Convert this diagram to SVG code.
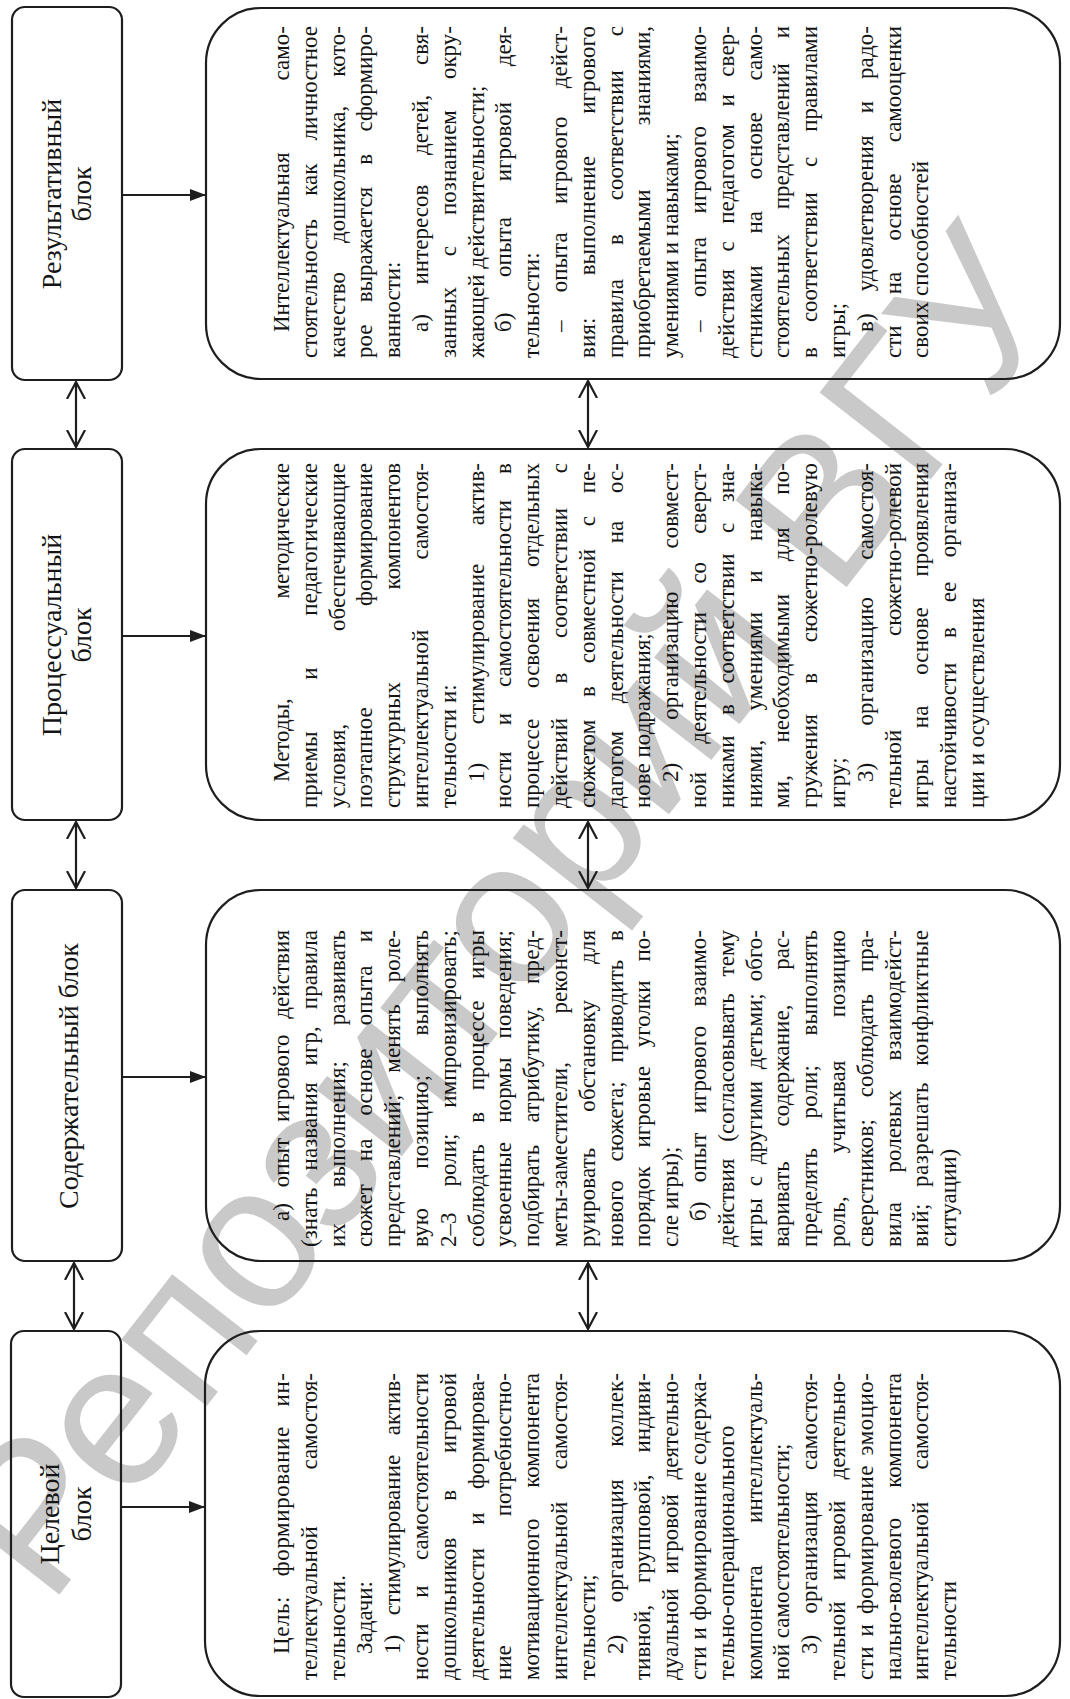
<svg xmlns="http://www.w3.org/2000/svg" width="1070" height="1699" viewBox="0 0 1070 1699">
<style>
.bx{fill:none;stroke:#1e1e1e;stroke-width:2.2}
.hd{font-family:"Liberation Serif","Times New Roman",serif;font-size:28px;fill:#141414;text-anchor:middle}
.t{font-family:"Liberation Serif","Times New Roman",serif;font-size:23px;fill:#141414}
.e{text-anchor:end}
.m{text-anchor:middle}
.wm{font-family:"Liberation Sans",Arial,sans-serif;font-size:205px;fill:#c9c9c9;text-anchor:middle}
.cn line{stroke:#1e1e1e;stroke-width:2.2;fill:none}
</style>
<defs>
<marker id="fa" viewBox="0 0 16 12" refX="16" refY="6" markerWidth="16" markerHeight="12" markerUnits="userSpaceOnUse" orient="auto"><path d="M0,0 L16,6 L0,12 z" fill="#1e1e1e"/></marker>
<marker id="oa" viewBox="0 0 18 20" refX="17" refY="10" markerWidth="18" markerHeight="20" markerUnits="userSpaceOnUse" orient="auto-start-reverse"><path d="M0,1 L17,10 L0,19" fill="none" stroke="#1e1e1e" stroke-width="2.2"/></marker>
</defs>
<rect width="1070" height="1699" fill="#fff"/>
<g id="watermark"><text class="wm" transform="translate(559,955) rotate(-52)">Репозиторий ВГУ</text></g>

<g id="hdr-result"><rect class="bx" x="12" y="7" width="110" height="373" rx="13"/>
<g transform="translate(0,194) rotate(-90)"><text class="hd" x="0" y="61">Результативный</text><text class="hd" x="0" y="91">блок</text></g></g>
<g id="hdr-process"><rect class="bx" x="12" y="449" width="110" height="371" rx="13"/>
<g transform="translate(0,635) rotate(-90)"><text class="hd" x="0" y="61">Процессуальный</text><text class="hd" x="0" y="91">блок</text></g></g>
<g id="hdr-content"><rect class="bx" x="12" y="890" width="110" height="371" rx="13"/>
<g transform="translate(0,1076) rotate(-90)"><text class="hd" x="0" y="78">Содержательный блок</text></g></g>
<g id="hdr-target"><rect class="bx" x="11" y="1331" width="110" height="366" rx="13"/>
<g transform="translate(0,1514) rotate(-90)"><text class="hd" x="0" y="59">Целевой</text><text class="hd" x="0" y="91">блок</text></g></g>

<g id="box-result"><rect class="bx" x="206" y="8" width="854" height="371" rx="55"/>
<g class="t" transform="translate(0,358) rotate(-90)">
<text x="26" y="289">Интеллектуальная</text><text class="e" x="332" y="289">само-</text>
<text x="0" y="316.8" word-spacing="17.4" textLength="332" lengthAdjust="spacing">стоятельность как личностное</text>
<text x="0" y="344.6" word-spacing="22.8" textLength="332" lengthAdjust="spacing">качество дошкольника, кото-</text>
<text x="0" y="372.4" word-spacing="16.4" textLength="332" lengthAdjust="spacing">рое выражается в сформиро-</text>
<text x="0" y="400.2">ванности:</text>
<text x="26" y="428" word-spacing="23.9" textLength="306" lengthAdjust="spacing">а) интересов детей, свя-</text>
<text x="0" y="455.8" word-spacing="25.2" textLength="332" lengthAdjust="spacing">занных с познанием окру-</text>
<text x="0" y="483.6">жающей действительности;</text>
<text x="26" y="511.4" word-spacing="29.9" textLength="306" lengthAdjust="spacing">б) опыта игровой дея-</text>
<text x="0" y="539.2">тельности:</text>
<text x="26" y="567" word-spacing="22.5" textLength="306" lengthAdjust="spacing">– опыта игрового дейст-</text>
<text x="0" y="594.8" word-spacing="36.4" textLength="332" lengthAdjust="spacing">вия: выполнение игрового</text>
<text x="0" y="622.6" word-spacing="28.2" textLength="332" lengthAdjust="spacing">правила в соответствии с</text>
<text x="0" y="650.4">приобретаемыми</text><text class="e" x="332" y="650.4">знаниями,</text>
<text x="0" y="678.2">умениями и навыками;</text>
<text x="26" y="706" word-spacing="17.8" textLength="306" lengthAdjust="spacing">– опыта игрового взаимо-</text>
<text x="0" y="733.8" word-spacing="11.6" textLength="332" lengthAdjust="spacing">действия с педагогом и свер-</text>
<text x="0" y="761.6" word-spacing="26.1" textLength="332" lengthAdjust="spacing">стниками на основе само-</text>
<text x="0" y="789.4" word-spacing="19" textLength="332" lengthAdjust="spacing">стоятельных представлений и</text>
<text x="0" y="817.2" word-spacing="19.3" textLength="332" lengthAdjust="spacing">в соответствии с правилами</text>
<text x="0" y="845">игры;</text>
<text x="26" y="872.8" word-spacing="16.1" textLength="306" lengthAdjust="spacing">в) удовлетворения и радо-</text>
<text x="0" y="900.6" word-spacing="25.6" textLength="332" lengthAdjust="spacing">сти на основе самооценки</text>
<text x="0" y="928.4">своих способностей</text>
</g></g>

<g id="box-process"><rect class="bx" x="206" y="449" width="854" height="371" rx="55"/>
<g class="t" transform="translate(0,808) rotate(-90)">
<text x="26" y="289">Методы,</text><text class="e" x="345" y="289">методические</text>
<text x="0" y="316.8" word-spacing="46" textLength="345" lengthAdjust="spacing">приемы и педагогические</text>
<text x="0" y="344.6">условия,</text><text class="e" x="345" y="344.6">обеспечивающие</text>
<text x="0" y="372.4">поэтапное</text><text class="e" x="345" y="372.4">формирование</text>
<text x="0" y="400.2">структурных</text><text class="e" x="345" y="400.2">компонентов</text>
<text x="0" y="428">интеллектуальной</text><text class="e" x="345" y="428">самостоя-</text>
<text x="0" y="455.8">тельности и:</text>
<text x="26" y="483.6" word-spacing="32.8" textLength="319" lengthAdjust="spacing">1) стимулирование актив-</text>
<text x="0" y="511.4" word-spacing="20.4" textLength="345" lengthAdjust="spacing">ности и самостоятельности в</text>
<text x="0" y="539.2" word-spacing="25.2" textLength="345" lengthAdjust="spacing">процессе освоения отдельных</text>
<text x="0" y="567" word-spacing="28.9" textLength="345" lengthAdjust="spacing">действий в соответствии с</text>
<text x="0" y="594.8" word-spacing="16.9" textLength="345" lengthAdjust="spacing">сюжетом в совместной с пе-</text>
<text x="0" y="622.6" word-spacing="21.9" textLength="345" lengthAdjust="spacing">дагогом деятельности на ос-</text>
<text x="0" y="650.4">нове подражания;</text>
<text x="26" y="678.2" word-spacing="37.4" textLength="319" lengthAdjust="spacing">2) организацию совмест-</text>
<text x="0" y="706" word-spacing="22.5" textLength="345" lengthAdjust="spacing">ной деятельности со сверст-</text>
<text x="0" y="733.8" word-spacing="14.7" textLength="345" lengthAdjust="spacing">никами в соответствии с зна-</text>
<text x="0" y="761.6" word-spacing="23.4" textLength="345" lengthAdjust="spacing">ниями, умениями и навыка-</text>
<text x="0" y="789.4" word-spacing="26.5" textLength="345" lengthAdjust="spacing">ми, необходимыми для по-</text>
<text x="0" y="817.2" word-spacing="24.5" textLength="345" lengthAdjust="spacing">гружения в сюжетно-ролевую</text>
<text x="0" y="845">игру;</text>
<text x="26" y="872.8" word-spacing="31.5" textLength="319" lengthAdjust="spacing">3) организацию самостоя-</text>
<text x="0" y="900.6">тельной</text><text class="e" x="345" y="900.6">сюжетно-ролевой</text>
<text x="0" y="928.4" word-spacing="25" textLength="345" lengthAdjust="spacing">игры на основе проявления</text>
<text x="0" y="956.2" word-spacing="19" textLength="345" lengthAdjust="spacing">настойчивости в ее организа-</text>
<text x="0" y="984">ции и осуществления</text>
</g></g>

<g id="box-content"><rect class="bx" x="206" y="890" width="854" height="371" rx="55"/>
<g class="t" transform="translate(0,1247) rotate(-90)">
<text x="26" y="289" word-spacing="9.9" textLength="291" lengthAdjust="spacing">а) опыт игрового действия</text>
<text x="0" y="316.8" word-spacing="11.2" textLength="317" lengthAdjust="spacing">(знать названия игр, правила</text>
<text x="0" y="344.6" word-spacing="29.9" textLength="317" lengthAdjust="spacing">их выполнения; развивать</text>
<text x="0" y="372.4" word-spacing="17.4" textLength="317" lengthAdjust="spacing">сюжет на основе опыта и</text>
<text x="0" y="400.2" word-spacing="16.2" textLength="317" lengthAdjust="spacing">представлений; менять роле-</text>
<text x="0" y="428" word-spacing="33.5" textLength="317" lengthAdjust="spacing">вую позицию; выполнять</text>
<text x="0" y="455.8" word-spacing="20" textLength="317" lengthAdjust="spacing">2–3 роли; импровизировать;</text>
<text x="0" y="483.6" word-spacing="15.7" textLength="317" lengthAdjust="spacing">соблюдать в процессе игры</text>
<text x="0" y="511.4" word-spacing="13.3" textLength="317" lengthAdjust="spacing">усвоенные нормы поведения;</text>
<text x="0" y="539.2" word-spacing="16.2" textLength="317" lengthAdjust="spacing">подбирать атрибутику, пред-</text>
<text x="0" y="567">меты-заместители,</text><text class="e" x="317" y="567">реконст-</text>
<text x="0" y="594.8" word-spacing="30.2" textLength="317" lengthAdjust="spacing">руировать обстановку для</text>
<text x="0" y="622.6" word-spacing="12.9" textLength="317" lengthAdjust="spacing">нового сюжета; приводить в</text>
<text x="0" y="650.4" word-spacing="12.9" textLength="317" lengthAdjust="spacing">порядок игровые уголки по-</text>
<text x="0" y="678.2">сле игры);</text>
<text x="26" y="706" word-spacing="13.6" textLength="291" lengthAdjust="spacing">б) опыт игрового взаимо-</text>
<text x="0" y="733.8" word-spacing="11.2" textLength="317" lengthAdjust="spacing">действия (согласовывать тему</text>
<text x="0" y="761.6" word-spacing="6.1" textLength="317" lengthAdjust="spacing">игры с другими детьми; обго-</text>
<text x="0" y="789.4" word-spacing="28.8" textLength="317" lengthAdjust="spacing">варивать содержание, рас-</text>
<text x="0" y="817.2" word-spacing="23.8" textLength="317" lengthAdjust="spacing">пределять роли; выполнять</text>
<text x="0" y="845" word-spacing="37.3" textLength="317" lengthAdjust="spacing">роль, учитывая позицию</text>
<text x="0" y="872.8" word-spacing="15.9" textLength="317" lengthAdjust="spacing">сверстников; соблюдать пра-</text>
<text x="0" y="900.6" word-spacing="23.7" textLength="317" lengthAdjust="spacing">вила ролевых взаимодейст-</text>
<text x="0" y="928.4" word-spacing="10" textLength="317" lengthAdjust="spacing">вий; разрешать конфликтные</text>
<text x="0" y="956.2">ситуации)</text>
</g></g>

<g id="box-target"><rect class="bx" x="205" y="1331" width="855" height="365" rx="55"/>
<g class="t" transform="translate(0,1680) rotate(-90)">
<text x="26" y="289" word-spacing="13.4" textLength="281" lengthAdjust="spacing">Цель: формирование ин-</text>
<text x="0" y="316.8">теллектуальной</text><text class="e" x="307" y="316.8">самостоя-</text>
<text x="0" y="344.6">тельности.</text>
<text x="26" y="372.4">Задачи:</text>
<text x="26" y="400.2" word-spacing="13.8" textLength="281" lengthAdjust="spacing">1) стимулирование актив-</text>
<text x="0" y="428" word-spacing="20" textLength="307" lengthAdjust="spacing">ности и самостоятельности</text>
<text x="0" y="455.8" word-spacing="30.8" textLength="307" lengthAdjust="spacing">дошкольников в игровой</text>
<text x="0" y="483.6" word-spacing="17.5" textLength="307" lengthAdjust="spacing">деятельности и формирова-</text>
<text x="0" y="511.4">ние</text><text class="e" x="307" y="511.4">потребностно-</text>
<text x="0" y="539.2">мотивационного</text><text class="e" x="307" y="539.2">компонента</text>
<text x="0" y="567">интеллектуальной</text><text class="e" x="307" y="567">самостоя-</text>
<text x="0" y="594.8">тельности;</text>
<text x="26" y="622.6" word-spacing="26.7" textLength="281" lengthAdjust="spacing">2) организация коллек-</text>
<text x="0" y="650.4" word-spacing="16" textLength="307" lengthAdjust="spacing">тивной, групповой, индиви-</text>
<text x="0" y="678.2" word-spacing="8.9" textLength="307" lengthAdjust="spacing">дуальной игровой деятельно-</text>
<text x="0" y="706" textLength="307" lengthAdjust="spacing">сти и формирование содержа-</text>
<text x="0" y="733.8">тельно-операционального</text>
<text x="0" y="761.6">компонента</text><text class="e" x="307" y="761.6">интеллектуаль-</text>
<text x="0" y="789.4">ной самостоятельности;</text>
<text x="26" y="817.2" word-spacing="15.5" textLength="281" lengthAdjust="spacing">3) организация самостоя-</text>
<text x="0" y="845" word-spacing="15.5" textLength="307" lengthAdjust="spacing">тельной игровой деятельно-</text>
<text x="0" y="872.8" word-spacing="3.3" textLength="307" lengthAdjust="spacing">сти и формирование эмоцио-</text>
<text x="0" y="900.6">нально-волевого</text><text class="e" x="307" y="900.6">компонента</text>
<text x="0" y="928.4">интеллектуальной</text><text class="e" x="307" y="928.4">самостоя-</text>
<text x="0" y="956.2">тельности</text>
</g></g>

<g id="connectors" class="cn">
<line x1="122" y1="195" x2="206" y2="195" marker-end="url(#fa)"/>
<line x1="122" y1="636" x2="206" y2="636" marker-end="url(#fa)"/>
<line x1="122" y1="1077" x2="206" y2="1077" marker-end="url(#fa)"/>
<line x1="121" y1="1507" x2="205" y2="1507" marker-end="url(#fa)"/>
<line x1="76" y1="382" x2="76" y2="447" marker-start="url(#oa)" marker-end="url(#oa)"/>
<line x1="76" y1="822" x2="76" y2="888" marker-start="url(#oa)" marker-end="url(#oa)"/>
<line x1="74" y1="1263" x2="74" y2="1329" marker-start="url(#oa)" marker-end="url(#oa)"/>
<line x1="588" y1="381" x2="588" y2="447" marker-start="url(#oa)" marker-end="url(#oa)"/>
<line x1="588" y1="822" x2="588" y2="888" marker-start="url(#oa)" marker-end="url(#oa)"/>
<line x1="588" y1="1263" x2="588" y2="1329" marker-start="url(#oa)" marker-end="url(#oa)"/>
</g>
</svg>
